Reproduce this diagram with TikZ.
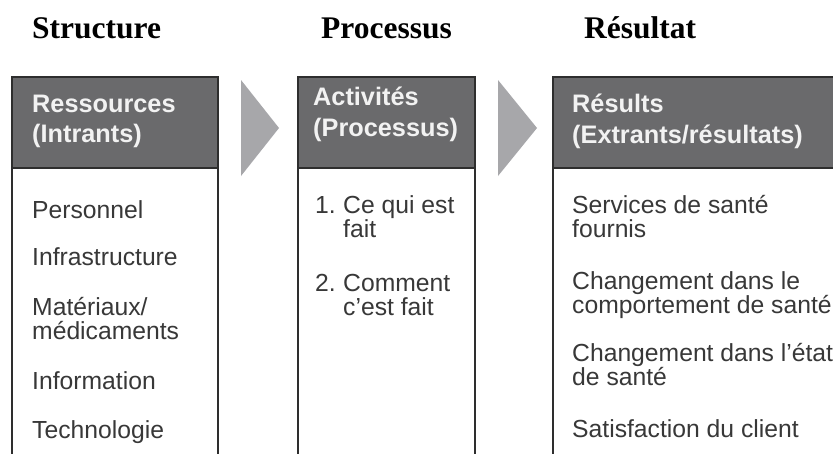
\documentclass[tikz,border=0pt]{standalone}
\usepackage{fontspec}
\setmainfont{Liberation Serif}
\newfontfamily\bodyfont{Liberation Sans}
\definecolor{hdrfill}{HTML}{6A6A6C}
\definecolor{boxline}{HTML}{2E2E2E}
\definecolor{arrowgray}{HTML}{A7A7AA}
\definecolor{bodytext}{HTML}{383838}
\definecolor{hdrtext}{HTML}{F2F2F2}
\tikzset{
  title/.style={anchor=base west, inner sep=0pt, font=\fontsize{31.5}{34}\selectfont\bfseries, text=black},
  hdr/.style={anchor=base west, inner sep=0pt, font=\bodyfont\fontsize{25.3}{27}\selectfont\bfseries, text=hdrtext},
  item/.style={anchor=base west, inner sep=0pt, font=\bodyfont\fontsize{24.7}{26}\selectfont, text=bodytext},
  colbox/.style={draw=boxline, line width=1.6pt},
  hdrbox/.style={fill=hdrfill},
  chevron/.style={fill=arrowgray}
}
\begin{document}
\begin{tikzpicture}[x=1pt,y=-1pt]
\useasboundingbox (0,0) rectangle (833,453);
\clip (0,0) rectangle (833,453);
\fill[white] (0,0) rectangle (833,453);
% titles
\node[title] (tStruct) at (32,38) {Structure};
\node[title] (tProc) at (321,38) {Processus};
\node[title] (tRes) at (584,38) {Résultat};
% boxes
\fill[hdrbox] (12,77) rectangle (218,168);
\fill[hdrbox] (298,77) rectangle (475,168);
\fill[hdrbox] (553,77) rectangle (850,168);
\draw[colbox] (12,470) -- (12,77) -- (218,77) -- (218,470);
\draw[colbox] (12,168) -- (218,168);
\draw[colbox] (298,470) -- (298,77) -- (475,77) -- (475,470);
\draw[colbox] (298,168) -- (475,168);
\draw[colbox] (553,470) -- (553,77) -- (850,77);
\draw[colbox] (553,168) -- (850,168);
% arrows
\fill[chevron] (241,80) -- (279,128) -- (241,176) -- cycle;
\fill[chevron] (498,80) -- (537,128) -- (498,176) -- cycle;
% headers
\node[hdr] (h1a) at (32,112) {Ressources};
\node[hdr] (h1b) at (32,142) {(Intrants)};
\node[hdr] (h2a) at (313,105) {Activités};
\node[hdr] (h2b) at (313,136) {(Processus)};
\node[hdr] (h3a) at (572,112) {Résults};
\node[hdr] (h3b) at (572,143) {(Extrants/résultats)};
% column 1
\node[item] (c1a) at (32,218) {Personnel};
\node[item] (c1b) at (32,265) {Infrastructure};
\node[item] (c1c) at (32,315) {Matériaux/};
\node[item] (c1d) at (32,339) {médicaments};
\node[item] (c1e) at (32,389) {Information};
\node[item] (c1f) at (32,438) {Technologie};
% column 2
\node[item] (n1) at (315,213) {1.};
\node[item] (c2a) at (343,213) {Ce qui est};
\node[item] (c2b) at (343,237) {fait};
\node[item] (n2) at (315,291) {2.};
\node[item] (c2c) at (343,291) {Comment};
\node[item] (c2d) at (343,315) {c’est fait};
% column 3
\node[item] (c3a) at (572,213) {Services de santé};
\node[item] (c3b) at (572,237) {fournis};
\node[item] (c3c) at (572,289) {Changement dans le};
\node[item] (c3d) at (572,313) {comportement de santé};
\node[item] (c3e) at (572,361) {Changement dans l’état};
\node[item] (c3f) at (572,385) {de santé};
\node[item] (c3g) at (572,437) {Satisfaction du client};
\end{tikzpicture}
\end{document}
